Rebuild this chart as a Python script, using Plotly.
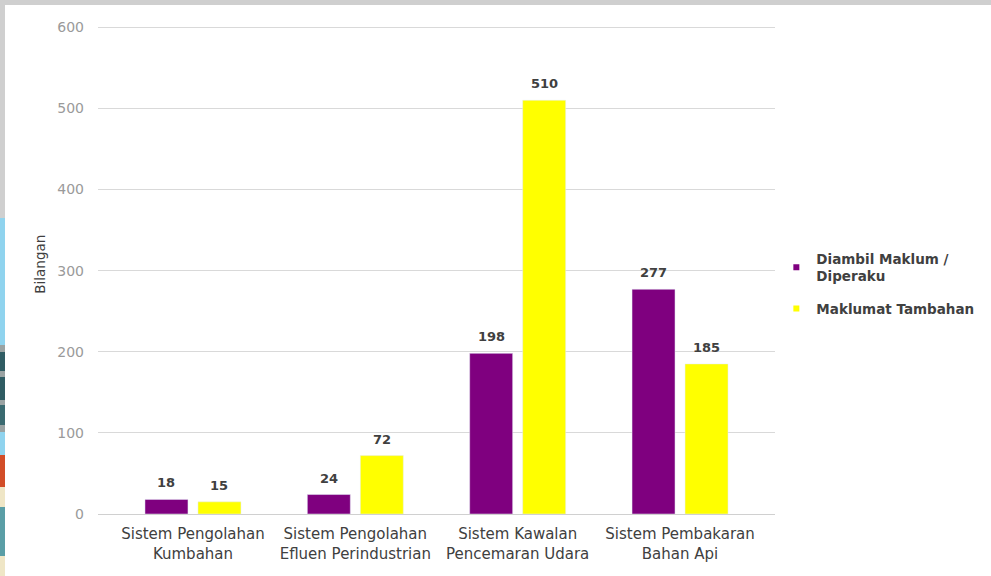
import plotly.graph_objects as go

categories = ["Sistem Pengolahan<br>Kumbahan", "Sistem Pengolahan<br>Efluen Perindustrian",
              "Sistem Kawalan<br>Pencemaran Udara", "Sistem Pembakaran<br>Bahan Api"]
diambil = [18, 24, 198, 277]
tambahan = [15, 72, 510, 185]
series_names = ["Diambil Maklum /<br>Diperaku", "Maklumat Tambahan"]
colors = ["#7f007f", "#ffff00"]
y_ticks = [0, 100, 200, 300, 400, 500, 600]

FONT = "DejaVu Sans, Verdana, sans-serif"
DARK = "#404040"
BARGAP, BARGROUPGAP = 0.347, 0.189
slot = (1 - BARGAP) / 2  # width of each bar slot in category units

W, H = 991, 576
ML, MR, MT, MB = 98, 216, 24, 62
PW, PH = W - ML - MR, H - MT - MB


def px_x(p):
    return (p - ML) / PW


def px_y(p):
    return (H - MB - p) / PH


fig = go.Figure()
annotations = []
for k, (vals, name, col, grp) in enumerate([(diambil, series_names[0], colors[0], "a"),
                                            (tambahan, series_names[1], colors[1], "b")]):
    fig.add_trace(go.Bar(x=categories, y=vals, name=name, marker_color=col,
                         showlegend=False, legendgroup=grp))
    # legend entry with small square symbol
    fig.add_trace(go.Scatter(x=[categories[0]], y=[None], mode="markers", name=name,
                             legendgroup=grp,
                             marker=dict(symbol="square", size=6, color=col)))
    off = (k - 0.5) * slot
    for i, v in enumerate(vals):
        annotations.append(dict(x=i + off, y=v, xref="x", yref="y", text=str(v),
                                showarrow=False, yanchor="bottom", yshift=7,
                                font=dict(family=FONT, size=13, color=DARK, weight="bold")))

annotations.append(dict(text="Bilangan", textangle=-90, xref="paper", yref="paper",
                        x=-0.087, y=0.509, xanchor="center", yanchor="middle", showarrow=False,
                        font=dict(family=FONT, size=13.5, color=DARK)))

fig.update_layout(
    width=W, height=H,
    margin=dict(l=ML, r=MR, t=MT, b=MB),
    paper_bgcolor="white", plot_bgcolor="white",
    barmode="group", bargap=BARGAP, bargroupgap=BARGROUPGAP,
    font=dict(family=FONT, size=12, color=DARK),
    showlegend=True,
    legend=dict(x=1.002, xanchor="left", y=0.47, yanchor="middle",
                font=dict(family=FONT, size=13.5, color=DARK, weight="bold"),
                itemwidth=30, tracegroupgap=12, bgcolor="rgba(0,0,0,0)"),
    xaxis=dict(range=[-0.585, 3.585], showgrid=False, showline=False, ticks="",
               ticklabelstandoff=9,
               tickfont=dict(family=FONT, size=15, color=DARK)),
    yaxis=dict(range=[0, 604], tickvals=y_ticks, showgrid=True, gridcolor="#d9d9d9",
               gridwidth=1, zeroline=True, zerolinecolor="#d0d0d0", zerolinewidth=1,
               showline=False, ticks="", ticklabelstandoff=13,
               tickfont=dict(family=FONT, size=14, color="#9a9a9a")),
    annotations=annotations,
)

# screenshot frame: grey top strip and a thin multicoloured strip on the left edge
fig.add_shape(type="rect", xref="paper", yref="paper", x0=px_x(-5), x1=px_x(W + 5),
              y0=px_y(5), y1=px_y(-5), line_width=0, fillcolor="#cfcfcf", layer="above")
left_strip = [(-5, 218, "#cfcfcf"), (218, 345, "#8fd3ee"), (345, 352, "#9aa3a3"),
              (352, 371, "#2f5c63"), (371, 377, "#9aa3a3"), (377, 400, "#2f5c63"),
              (400, 405, "#9aa3a3"), (405, 425, "#3a6a70"), (425, 432, "#9aa3a3"),
              (432, 455, "#8fd3ee"), (455, 487, "#d24d28"), (487, 507, "#efe6c6"),
              (507, 556, "#5a9ea6"), (556, 581, "#efe6c6")]
for y0p, y1p, c in left_strip:
    fig.add_shape(type="rect", xref="paper", yref="paper", x0=px_x(-5), x1=px_x(5),
                  y0=px_y(y1p), y1=px_y(y0p), line_width=0, fillcolor=c, layer="above")

fig.write_html("out.html")
